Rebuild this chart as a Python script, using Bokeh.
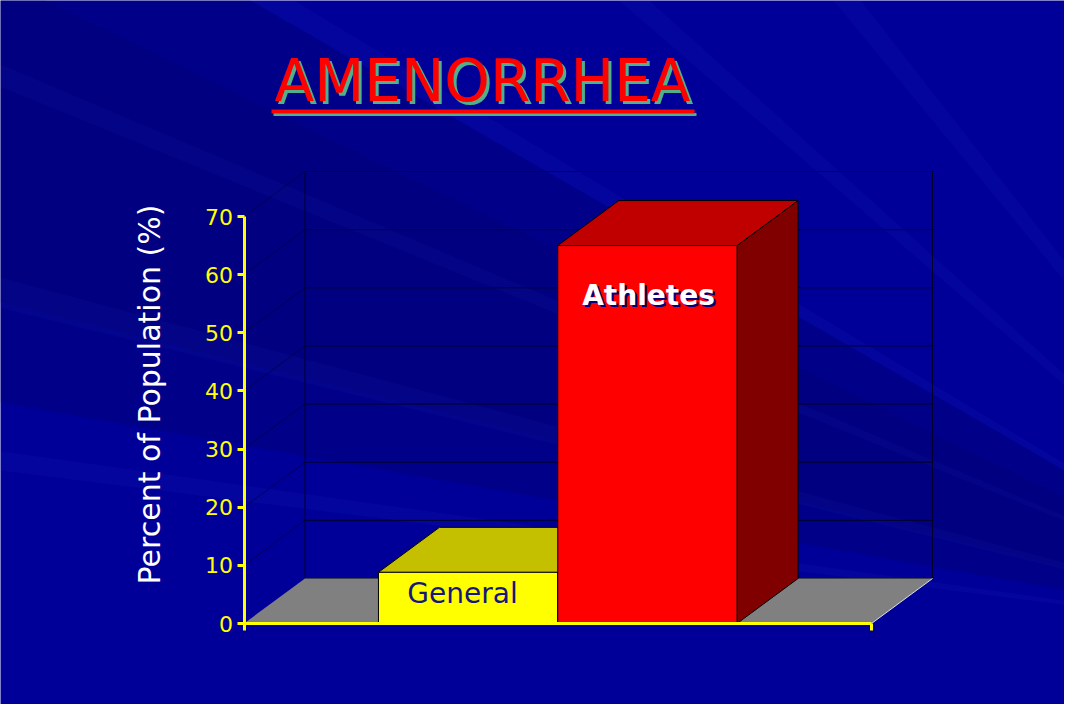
import math
from bokeh.plotting import figure
from bokeh.models import Range1d, LinearAxis, FixedTicker, Label, ColumnDataSource
from bokeh.core.properties import value
from bokeh.embed import file_html
from bokeh.resources import INLINE

# ---------------- data ----------------
title_text = "AMENORRHEA"
series = ["General", "Athletes"]
values = [8.8, 65]
y_ticks = [0, 10, 20, 30, 40, 50, 60, 70]
y_label = "Percent of Population (%)"

front_colors = ["#FFFF00", "#FF0000"]
top_colors = ["#C4C000", "#C00000"]
side_colors = ["#8C8A00", "#800000"]
label_colors = ["#16167C", "#FFFFFF"]

FONT = "DejaVu Sans"
BG = "#000098"

# ---------------- layout ----------------
W, H = 1064, 704
M = 8  # page margin
PX0, PX1 = 251.5, 879.0      # page x of category-axis start / end
PY0, PY70 = 631.0, 224.0     # page y of value 0 / value 70
YMAX = 70
ppx = PX1 - PX0
ppy = (PY0 - PY70) / YMAX
x_start = -(PX0 - M) / ppx
x_end = (W + M - PX0) / ppx
y_end = (PY0 - M) / ppy
y_start = -(H + M - PY0) / ppy
DX = 61 / ppx          # depth offset (x units)
DY = 45 / ppy          # depth offset (value units)


def fx(px):
    return (px - PX0) / ppx


def fy(py):
    return (PY0 - py) / ppy


p = figure(width=W, height=H, x_range=Range1d(x_start, x_end), y_range=Range1d(y_start, y_end),
           output_backend="svg", toolbar_location=None, x_axis_type=None, y_axis_type=None,
           min_border=0)
p.background_fill_color = BG
p.border_fill_color = BG
p.outline_line_color = None

# background shading and rays (decoration)
cx, cy = fx(1370), fy(650)
p.wedge(x=[cx], y=[cy], radius=2200, radius_units="screen",
        start_angle=[math.radians(150)], end_angle=[math.radians(170)],
        fill_color="#000040", fill_alpha=0.16, line_color=None)
p.wedge(x=[cx], y=[cy], radius=2200, radius_units="screen",
        start_angle=[math.radians(154)], end_angle=[math.radians(166)],
        fill_color="#000040", fill_alpha=0.12, line_color=None)
ray_starts = [128, 138, 149, 157, 165, 172]
ray_widths = [1.5, 1.2, 1.0, 0.8, 1.2, 0.8]
p.wedge(x=[cx] * len(ray_starts), y=[cy] * len(ray_starts), radius=2200, radius_units="screen",
        start_angle=[math.radians(a) for a in ray_starts],
        end_angle=[math.radians(a + w) for a, w in zip(ray_starts, ray_widths)],
        fill_color="#5060FF", fill_alpha=0.05, line_color=None)

# ---------------- walls ----------------
grid_vals = [t for t in y_ticks if 0 < t < YMAX]
p.quad(left=[DX], right=[1 + DX], bottom=[DY], top=[YMAX + DY], fill_alpha=0,
       line_color="#00002A", line_width=1)
p.segment(x0=[DX] * len(grid_vals), y0=[t + DY for t in grid_vals],
          x1=[1 + DX] * len(grid_vals), y1=[t + DY for t in grid_vals],
          line_color="#00002A", line_width=1)
diag = [t for t in y_ticks if t > 0]
p.segment(x0=[0] * len(diag), y0=diag, x1=[DX] * len(diag), y1=[t + DY for t in diag],
          line_color="#000040", line_alpha=0.7, line_width=1)

# floor
p.patch(x=[0, 1, 1 + DX, DX], y=[0, 0, DY, DY], fill_color="#808080", line_color=None)
p.segment(x0=[1], y0=[0], x1=[1 + DX], y1=[DY], line_color="#E0E0E0", line_width=1)

# ---------------- bars ----------------
n = len(values)
gap = 1.5
bw = 1.0 / (n + gap)
xs, ys, fills = [], [], []
for i, v in enumerate(values):
    l = gap * bw / 2 + i * bw
    r = l + bw
    xs += [[r, r + DX, r + DX, r], [l, r, r + DX, l + DX], [l, r, r, l]]
    ys += [[0, DY, v + DY, v], [v, v, v + DY, v + DY], [0, 0, v, v]]
    fills += [side_colors[i], top_colors[i], front_colors[i]]
p.patches(xs="xs", ys="ys", fill_color="fill", line_color="black", line_width=1,
          source=ColumnDataSource(dict(xs=xs, ys=ys, fill=fills)))

# ---------------- axes ----------------
yaxis = LinearAxis(ticker=FixedTicker(ticks=y_ticks), fixed_location=0, bounds=(0, YMAX),
                   axis_line_color="#FFFF00", axis_line_width=3,
                   major_tick_line_color="#FFFF00", major_tick_line_width=3,
                   major_tick_out=7, major_tick_in=0, minor_tick_out=0, minor_tick_in=0,
                   major_label_text_color="#FFFF00", major_label_text_font_size="22px",
                   major_label_text_font=FONT, major_label_standoff=4)
p.add_layout(yaxis, "left")
xaxis = LinearAxis(ticker=FixedTicker(ticks=[0, 1]), fixed_location=0, bounds=(0, 1),
                   axis_line_color="#FFFF00", axis_line_width=3,
                   major_tick_line_color="#FFFF00", major_tick_line_width=3,
                   major_tick_out=7, major_tick_in=0, minor_tick_out=0, minor_tick_in=0,
                   major_label_overrides={0: "", 1: ""})
p.add_layout(xaxis, "below")

# y-axis title
p.add_layout(Label(x=fx(157), y=fy(402), text=y_label, angle=math.pi / 2,
                   text_color="white", text_font=FONT, text_font_size="30px",
                   text_align="center", text_baseline="middle"))

# ---------------- bar labels ----------------
label_x = [fx(470), fx(656)]
label_y = [fy(601), fy(303)]
label_sizes = ["28px", "28px"]
label_styles = ["normal", "bold"]
for i, name in enumerate(series):
    if i == 1:
        p.add_layout(Label(x=label_x[i], y=label_y[i], text=name, x_offset=2, y_offset=-2,
                           text_color="#000080", text_font=FONT, text_font_size=label_sizes[i],
                           text_font_style=label_styles[i],
                           text_align="center", text_baseline="middle"))
    p.add_layout(Label(x=label_x[i], y=label_y[i], text=name,
                       text_color=label_colors[i], text_font=FONT, text_font_size=label_sizes[i],
                       text_font_style=label_styles[i],
                       text_align="center", text_baseline="middle"))

# ---------------- title ----------------
tx, ty = fx(490), fy(88)
p.add_layout(Label(x=tx, y=ty, x_offset=3, y_offset=-3, text=title_text,
                   text_color="#4FB08C", text_font=FONT, text_font_size="58px",
                   text_align="center", text_baseline="middle"))
p.add_layout(Label(x=tx, y=ty, text=title_text,
                   text_color="#FF0000", text_font=FONT, text_font_size="58px",
                   text_align="center", text_baseline="middle"))
p.segment(x0=[fx(281)], y0=[fy(122)], x1=[fx(704)], y1=[fy(122)], line_color="#4FB08C", line_width=3)
p.segment(x0=[fx(279)], y0=[fy(119)], x1=[fx(702)], y1=[fy(119)], line_color="#FF0000", line_width=4)

open("out.html", "w").write(file_html(p, INLINE))
